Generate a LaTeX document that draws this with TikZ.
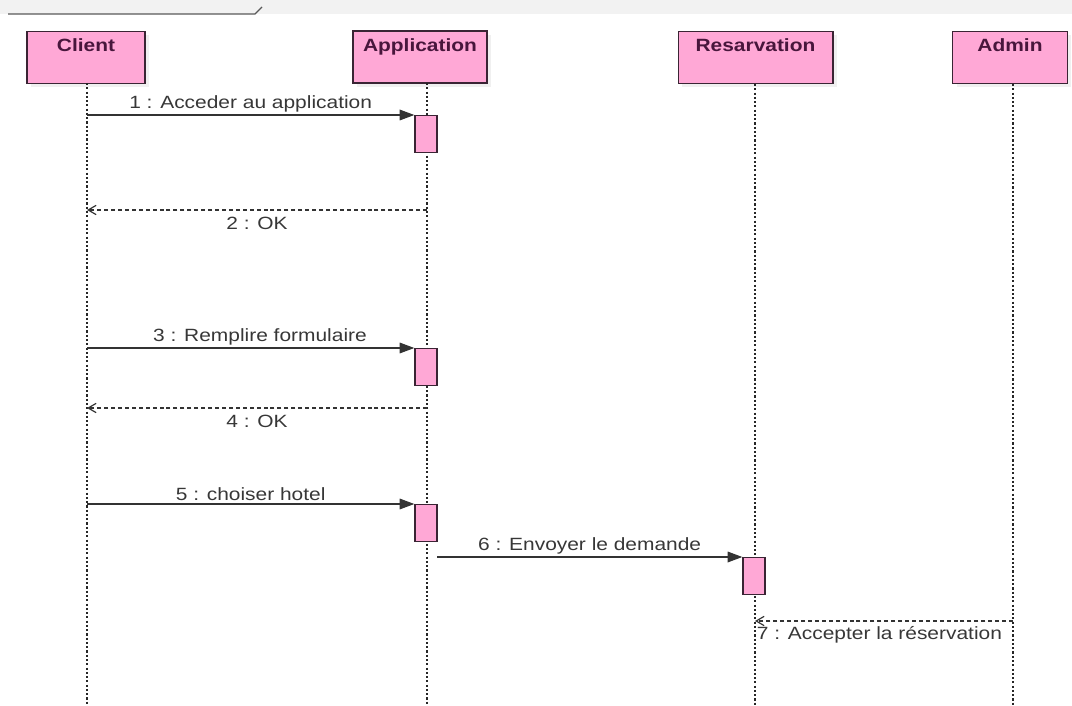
\documentclass[tikz,border=0pt]{standalone}
\usepackage{fontspec}
\setmainfont{Liberation Sans}[FakeStretch=1.18]
\usetikzlibrary{arrows.meta,shadows}

\definecolor{umlpink}{RGB}{255,168,214}
\definecolor{umlborder}{RGB}{58,36,52}
\definecolor{headtext}{RGB}{72,22,60}
\definecolor{msgtext}{RGB}{55,55,55}

\tikzset{
    head/.style={rectangle, draw=umlborder, fill=umlpink, line width=1pt, minimum height=39pt, inner sep=0pt,
        drop shadow={opacity=0.12, shadow xshift=3pt, shadow yshift=-3pt}},
    headtxt/.style={font=\fontsize{13.3}{15}\selectfont\bfseries, text=headtext},
    lifeline/.style={draw=black!85, line width=1pt, dash pattern=on 1.6pt off 1.6pt},
    activ/.style={rectangle, draw=umlborder, fill=umlpink, line width=1pt, minimum width=16.5pt, minimum height=27.5pt, inner sep=0pt, anchor=north},
    callmsg/.style={draw=black!80, line width=0.9pt, -{Triangle[length=11pt, width=8pt]}},
    replymsg/.style={draw=black!80, line width=0.9pt, dash pattern=on 3pt off 2.2pt, -{Straight Barb[length=6pt, width=7pt]}},
    msglbl/.style={font=\fontsize{13.3}{15}\selectfont, text=msgtext, inner sep=2pt}
}

\begin{document}
\begin{tikzpicture}[x=0.75pt, y=-0.75pt]
    \useasboundingbox (0,0) rectangle (1072,706);
    \fill[black!5] (0,0) rectangle (1072,14);
    \draw[black!65, line width=1pt] (8,14) -- (255,14) -- (262,7);

    % lifeline heads
    \node[head, minimum width=88.5pt, label={[headtxt, anchor=north, yshift=-2.5pt]north:Client}] (client) at (86,57.5) {};
    \node[head, minimum width=100.5pt, label={[headtxt, anchor=north, yshift=-2.5pt]north:Application}] (app) at (420,57) {};
    \node[head, minimum width=116pt, label={[headtxt, anchor=north, yshift=-2.5pt]north:Resarvation}] (resa) at (755.5,57.5) {};
    \node[head, minimum width=86pt, label={[headtxt, anchor=north, yshift=-2.5pt]north:Admin}] (admin) at (1010,57.5) {};

    % lifelines
    \coordinate (clienttop) at (87,83);
    \coordinate (apptop) at (427,83);
    \coordinate (resatop) at (755,84);
    \coordinate (admintop) at (1013,84);
    \coordinate (clientend) at (87,706);
    \coordinate (append) at (427,706);
    \coordinate (resaend) at (755,706);
    \coordinate (adminend) at (1013,706);
    \draw[lifeline] (clienttop) -- (clientend);
    \draw[lifeline] (apptop) -- (append);
    \draw[lifeline] (resatop) -- (resaend);
    \draw[lifeline] (admintop) -- (adminend);

    % activations
    \node[activ] (act1) at (426,115) {};
    \node[activ] (act3) at (426,348) {};
    \node[activ] (act5) at (426,504) {};
    \node[activ] (act6) at (754,557) {};

    % points on lifelines
    \coordinate (c1) at (87,115);
    \coordinate (c2) at (87,210);
    \coordinate (a2) at (427,210);
    \coordinate (c3) at (87,348);
    \coordinate (c4) at (87,408);
    \coordinate (a4) at (427,408);
    \coordinate (c5) at (87,504);
    \coordinate (a6) at (437,557);
    \coordinate (r7) at (755,621);
    \coordinate (d7) at (1013,621);

    % messages
    \draw[callmsg] (c1) -- node[msglbl, above] {1 : Acceder au application} (act1.north west);
    \draw[replymsg] (a2) -- node[msglbl, below, yshift=-3pt] {2 : OK} (c2);
    \draw[callmsg] (c3) -- node[msglbl, above, xshift=7pt] {3 : Remplire formulaire} (act3.north west);
    \draw[replymsg] (a4) -- node[msglbl, below, yshift=-3pt] {4 : OK} (c4);
    \draw[callmsg] (c5) -- node[msglbl, above] {5 : choiser hotel} (act5.north west);
    \draw[callmsg] (a6) -- node[msglbl, above] {6 : Envoyer le demande} (act6.north west);
    \draw[replymsg] (d7) -- node[msglbl, pos=1, below right, inner sep=1pt, yshift=-3pt] {7 : Accepter la réservation} (r7);
\end{tikzpicture}
\end{document}
